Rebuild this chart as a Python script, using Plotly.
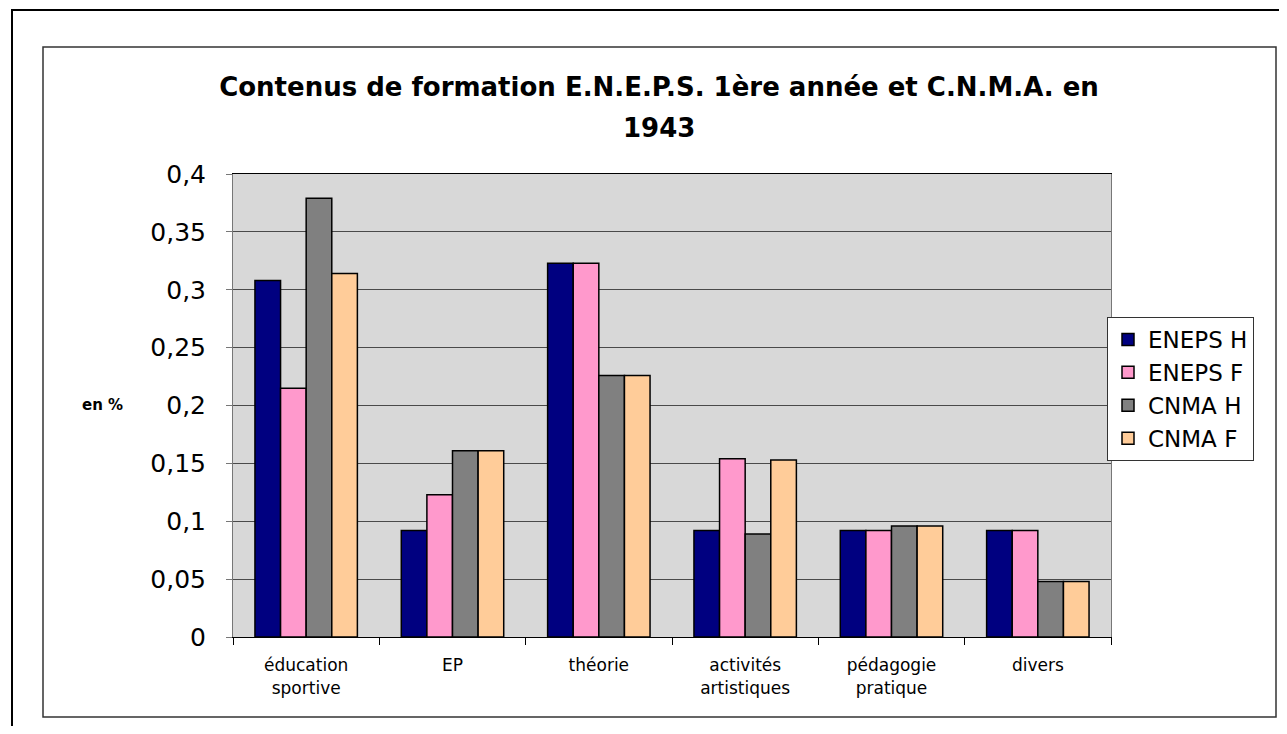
import plotly.graph_objects as go

categories = ["éducation<br>sportive", "EP", "théorie", "activités<br>artistiques", "pédagogie<br>pratique", "divers"]
eneps_h = [0.308, 0.092, 0.323, 0.092, 0.092, 0.092]
eneps_f = [0.215, 0.123, 0.323, 0.154, 0.092, 0.092]
cnma_h = [0.379, 0.161, 0.226, 0.089, 0.096, 0.048]
cnma_f = [0.314, 0.161, 0.226, 0.153, 0.096, 0.048]
series_names = ["ENEPS H", "ENEPS F", "CNMA H", "CNMA F"]
series_colors = ["#000080", "#FF99CC", "#808080", "#FFCC99"]
ytick_vals = [0, 0.05, 0.1, 0.15, 0.2, 0.25, 0.3, 0.35, 0.4]
ytick_text = ["0", "0,05", "0,1", "0,15", "0,2", "0,25", "0,3", "0,35", "0,4"]
title_line1 = "Contenus de formation E.N.E.P.S. 1ère année et C.N.M.A. en"
title_line2 = "1943"

# page body has an 8px margin: figure coords = screen coords - 8
OFF = 8
W, H = 1287 - 2 * OFF, 734 - 2 * OFF
L, R, T, B = 233 - OFF, 1111 - OFF, 174 - OFF, 637 - OFF

def px(x):  # screen x -> paper
    return (x - OFF - L) / (R - L)

def py(y):  # screen y -> paper
    return (B - (y - OFF)) / (B - T)

FONT = "DejaVu Sans, Verdana, sans-serif"

fig = go.Figure()
for name, vals, col in zip(series_names, [eneps_h, eneps_f, cnma_h, cnma_f], series_colors):
    fig.add_trace(go.Bar(x=categories, y=vals, name=name,
                         marker=dict(color=col, line=dict(color="black", width=1.5))))

fig.update_layout(
    width=W, height=H,
    margin=dict(l=L, r=W - R, t=T, b=H - B),
    paper_bgcolor="white",
    plot_bgcolor="#D8D8D8",
    barmode="group", bargap=0.30, bargroupgap=0,
    font=dict(family=FONT, color="black"),
    title=dict(text="<b>" + title_line1 + "</b>",
               x=px(659), xref="paper", xanchor="center",
               y=1 - (87 - OFF) / H, yref="container", yanchor="middle",
               font=dict(size=26, color="black", family=FONT)),
    legend=dict(x=px(1107), y=py(317), xanchor="left", yanchor="top",
                bgcolor="white", bordercolor="#333333", borderwidth=1,
                font=dict(size=23, color="black", family=FONT),
                itemwidth=30),
    showlegend=True,
)
fig.add_annotation(text="<b>" + title_line2 + "</b>", x=px(659), y=py(128),
                   xref="paper", yref="paper", showarrow=False,
                   xanchor="center", yanchor="middle",
                   font=dict(size=26, color="black", family=FONT))

fig.update_xaxes(showgrid=False, showline=True, linecolor="black", linewidth=1,
                 mirror=True, ticks="outside", tickson="boundaries", ticklen=7,
                 tickcolor="black", ticklabelstandoff=13,
                 tickfont=dict(size=17, color="black", family=FONT))
fig.update_yaxes(range=[0, 0.4], tickvals=ytick_vals, ticktext=ytick_text,
                 showgrid=True, gridcolor="#4a4a4a", gridwidth=1,
                 showline=True, linecolor="#777777", linewidth=1, mirror=True,
                 ticks="outside", ticklen=6, tickcolor="#777777",
                 ticklabelstandoff=15,
                 tickfont=dict(size=25, color="black", family=FONT), zeroline=False)

fig.add_annotation(text="<b>en %</b>", x=px(102), y=py(405), xref="paper", yref="paper",
                   showarrow=False, font=dict(size=15, color="black", family=FONT),
                   xanchor="center", yanchor="middle")

# outer frame (extends past the window) and inner chart frame
fig.add_shape(type="rect", xref="paper", yref="paper",
              x0=px(12), x1=px(1400), y0=py(10), y1=py(800),
              line=dict(color="black", width=2), layer="below")
fig.add_shape(type="rect", xref="paper", yref="paper",
              x0=px(43), x1=px(1276), y0=py(47), y1=py(717),
              line=dict(color="#333333", width=1.5), layer="below")

fig.write_html("out.html")
